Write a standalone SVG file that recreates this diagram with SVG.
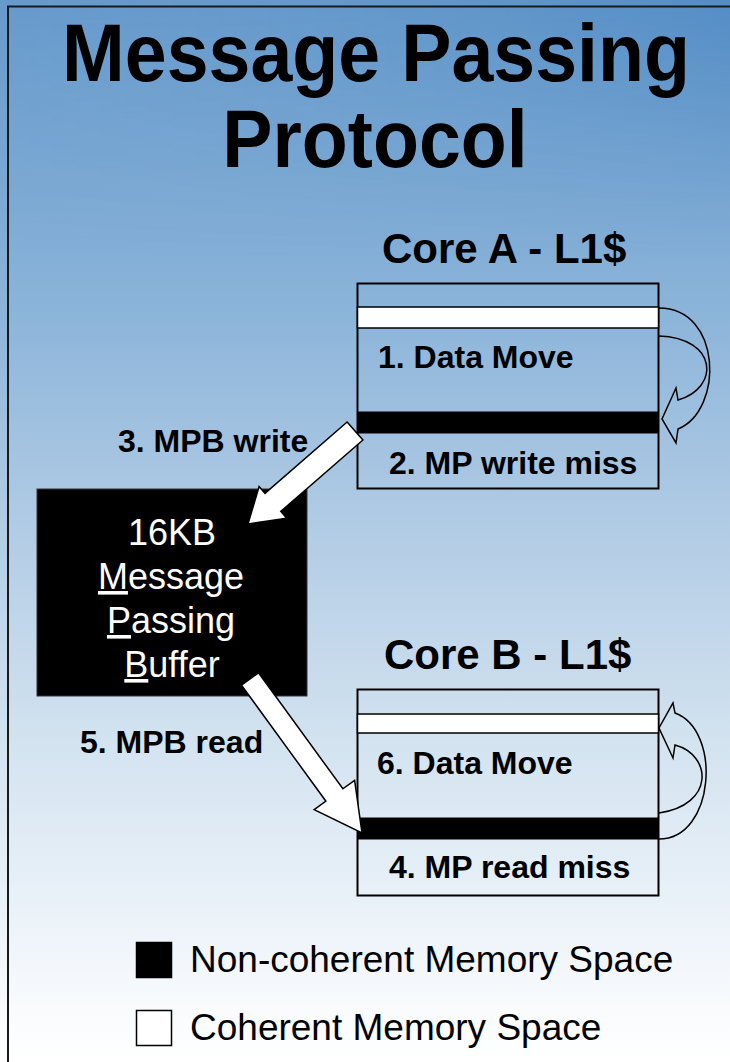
<svg xmlns="http://www.w3.org/2000/svg" width="730" height="1062" viewBox="0 0 730 1062">
  <defs>
    <linearGradient id="bg" x1="0" y1="0" x2="0" y2="1">
      <stop offset="0" stop-color="#5d94c9"/>
      <stop offset="0.3" stop-color="#8db5da"/>
      <stop offset="0.5" stop-color="#b2cce5"/>
      <stop offset="0.7" stop-color="#d3e3f0"/>
      <stop offset="0.88" stop-color="#eef4fa"/>
      <stop offset="0.95" stop-color="#f9fbfd"/>
      <stop offset="1" stop-color="#ffffff"/>
    </linearGradient>
    <linearGradient id="shade" x1="0" y1="0" x2="1" y2="0">
      <stop offset="0" stop-color="#ffffff" stop-opacity="0.06"/>
      <stop offset="1" stop-color="#2a6fb5" stop-opacity="0.18"/>
    </linearGradient>
    <linearGradient id="fade" x1="0" y1="0" x2="0" y2="1">
      <stop offset="0" stop-color="#fff" stop-opacity="1"/>
      <stop offset="1" stop-color="#fff" stop-opacity="0"/>
    </linearGradient>
    <mask id="topMask">
      <rect x="0" y="0" width="730" height="260" fill="url(#fade)"/>
    </mask>
    <style>
      .title { font-family: "Liberation Sans", Arial, sans-serif; font-weight: bold; font-size: 81px; fill: #000; text-anchor: middle; }
      .core { font-family: "Liberation Sans", Arial, sans-serif; font-weight: bold; font-size: 42px; fill: #000; }
      .lbl { font-family: "Liberation Sans", Arial, sans-serif; font-weight: bold; font-size: 32px; fill: #000; }
      .mpb { font-family: "Liberation Sans", Arial, sans-serif; font-size: 36px; fill: #fff; text-anchor: middle; }
      .leg { font-family: "Liberation Sans", Arial, sans-serif; font-size: 37px; fill: #000; }
      .box { fill: none; stroke: #000; stroke-width: 2; }
      .band-w { fill: #fff; stroke: #000; stroke-width: 1.5; }
      .band-b { fill: #000; stroke: #000; stroke-width: 1; }
      .block { fill: #fff; stroke: #000; stroke-width: 1.5; stroke-linejoin: miter; }
      .curl { fill: none; stroke: #000; stroke-width: 1.5; stroke-linejoin: miter; }
    </style>
  </defs>

  <!-- slide background and frame -->
  <rect x="0" y="0" width="730" height="1062" fill="url(#bg)"/>
  <rect x="0" y="0" width="730" height="260" fill="url(#shade)" mask="url(#topMask)"/>
  <rect x="8" y="6.5" width="760" height="1100" fill="none" stroke="#1a1a1a" stroke-width="2"/>

  <!-- heading -->
  <g id="title">
    <text class="title" transform="translate(376,81) scale(0.93,1)">Message Passing</text>
    <text class="title" transform="translate(375,167) scale(0.93,1)">Protocol</text>
  </g>

  <!-- Core A cache -->
  <g id="coreA">
    <text class="core" x="382" y="263">Core A - L1$</text>
    <rect class="box" x="357.5" y="283.5" width="301" height="205"/>
    <rect class="band-w" x="357.5" y="307" width="301" height="21"/>
    <rect class="band-b" x="357.5" y="412" width="301" height="21"/>
    <text class="lbl" x="378" y="368">1. Data Move</text>
    <text class="lbl" x="389" y="474">2. MP write miss</text>
  </g>

  <!-- Core B cache -->
  <g id="coreB">
    <text class="core" x="384" y="669">Core B - L1$</text>
    <rect class="box" x="357.5" y="689.5" width="301" height="206"/>
    <rect class="band-w" x="357.5" y="714" width="301" height="19"/>
    <rect class="band-b" x="357.5" y="818" width="301" height="21"/>
    <text class="lbl" x="377" y="774">6. Data Move</text>
    <text class="lbl" x="389" y="878">4. MP read miss</text>
  </g>

  <!-- message passing buffer -->
  <g id="mpb">
    <rect x="37" y="489" width="270" height="207" fill="#000" stroke="#333" stroke-width="1"/>
    <text class="mpb" x="172" y="545">16KB</text>
    <text class="mpb" x="171" y="589"><tspan text-decoration="underline">M</tspan>essage</text>
    <text class="mpb" x="171" y="633"><tspan text-decoration="underline">P</tspan>assing</text>
    <text class="mpb" x="172" y="677"><tspan text-decoration="underline">B</tspan>uffer</text>
  </g>

  <!-- transfers -->
  <g id="connectors">
    <text class="lbl" x="118" y="452">3. MPB write</text>
    <polygon class="block" points="347.1,422 362.9,440 280.8,511.4 286.7,518.2 248,524 259.1,486.6 265,493.4"/>
    <text class="lbl" x="80" y="753">5. MPB read</text>
    <polygon class="block" points="258.5,672.8 342.9,788.8 354.6,780.3 362,833 314.2,809.7 325.9,801.2 241.5,685.2"/>
    <path class="curl" d="M659,308 C722,308 724,410 678,429 L676,443 L662,419 L676,388 L678,400 C720,388 718,338 659,336"/>
    <path class="curl" d="M659,839 C715,839 722,730 675,713 L673,703 L659,728 L673,758 L675,745 C712,755 715,805 659,813"/>
  </g>

  <!-- key -->
  <g id="legend">
    <rect x="136.5" y="942.5" width="35" height="35" fill="#000" stroke="#000" stroke-width="1.5"/>
    <text class="leg" x="190" y="972">Non-coherent Memory Space</text>
    <rect x="136.5" y="1010.5" width="35" height="35" fill="#fff" stroke="#000" stroke-width="1.5"/>
    <text class="leg" x="190" y="1040">Coherent Memory Space</text>
  </g>
</svg>
